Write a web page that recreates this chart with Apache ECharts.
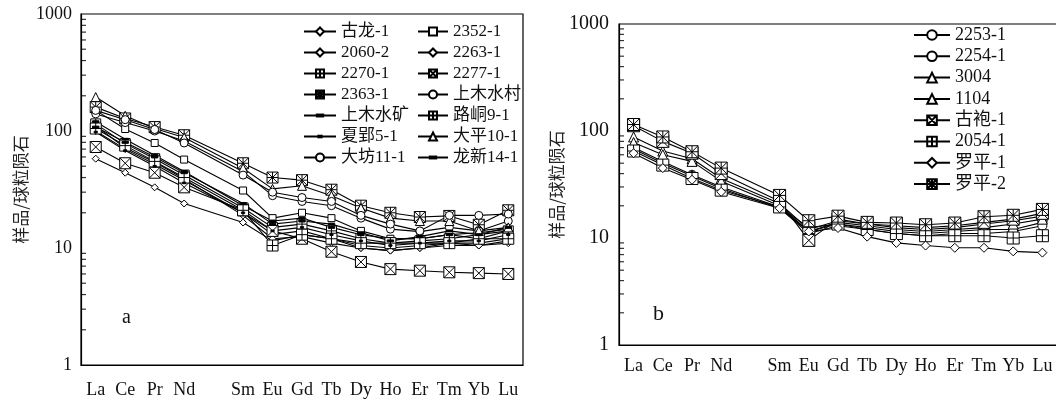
<!DOCTYPE html>
<html><head><meta charset="utf-8">
<script src="https://cdn.jsdelivr.net/npm/echarts/dist/echarts.min.js"></script>
<style>html,body{margin:0;padding:0;background:#fff}#c{width:1056px;height:401px}</style>
</head><body><div id="c"></div>
<script>
// ---------- data ----------
const categories = ['La','Ce','Pr','Nd','Pm','Sm','Eu','Gd','Tb','Dy','Ho','Er','Tm','Yb','Lu'];
const tickLabels = ['La','Ce','Pr','Nd','','Sm','Eu','Gd','Tb','Dy','Ho','Er','Tm','Yb','Lu'];
const minorTickValues = [2,3,4,5,6,7,8,9,20,30,40,50,60,70,80,90,200,300,400,500,600,700,800,900];
const yAxisTitle = '样品/球粒陨石';

// panel a
const guLong1   = [58,44,33,24,null,16.5,11.5,13,12,10,9.5,10,11,10.5,11.5];
const s2352_1   = [150,104,79,57,null,31,18,20,18,14,12,12,13,12,14];
const s2060_2   = [100,70,52,38,null,20,13,14,12,10.5,10,10.5,11,11,12];
const s2263_1   = [110,72,54,39,null,19,12,12.5,11,10,9.5,10,10.5,10.5,11];
const s2270_1   = [115,78,58,42,null,22,15,16,14,12,11,11.5,12,13,14];
const s2277_1   = [73,53,44,33,null,21,14,12,9.3,7.6,6.6,6.4,6.2,6.1,6.0];
const s2363_1   = [160,128,108,92,null,53,40,38,31.5,23,20,18.4,18.8,15.8,21];
const shangMuCun= [140,118,100,82,null,45,28,25,23,18,14.5,13.8,15,14,17];
const shangMuKuang=[120,85,62,45,null,23,17,18,15,13,12,12,13,13.5,14.5];
const luDong9_1 = [105,75,55,40,null,21,10.5,13,12,11,11,11,11,12,12];
const xiaYing5_1= [98,68,50,36,null,20,14,15,13,11.5,10.5,11,11.5,11.5,13];
const daPing10_1= [195,135,105,88,null,48,32,34,28,22,18,17,17,14,15];
const daFang11_1= [150,125,103,79,null,42,30,27,25,19,16,14,19,19,19.5];
const longXin14_1=[108,80,60,44,null,24,16,17,16,13.5,11.5,12.5,14,13,15];

// panel b
const s2253_1 = [70,52,39,30,null,19.5,11.5,13.5,12.5,11.5,11,11.5,12,12,14];
const s2254_1 = [68,50,38,29,null,19,11,13,12,11,10.5,11,11,11.5,13];
const s3004   = [88,65,55,36,null,21,12,14.5,13.5,12.5,12,12.5,13.5,14.5,16];
const s1104   = [78,60,52,34,null,20,11.5,14,13,12,11.5,12,12.5,13.5,15];
const guPao1  = [112,80,62,40,null,22,9.5,15,13.5,13,12.5,13,14,15,17];
const s2054_1 = [65,48,36,28,null,19.5,12.5,13.5,12,11,10.5,10.5,10.5,10,10.5];
const luoPing1= [62,45,35,27,null,19,11.5,12.4,10.3,9,8.5,8.1,8.1,7.5,7.3];
const luoPing2= [115,88,64,45,null,25,14.5,16,14,13.8,13.3,13.8,15.8,16.3,18.5];

// ---------- symbols ----------
const SYM = {
  circle: 'path://M5,0 A5,5 0 1,1 5,10 A5,5 0 1,1 5,0 Z',
  diamond: 'path://M5,0 L10,5 L5,10 L0,5 Z',
  triangle: 'path://M5,0 L10,10 L0,10 Z',
  square: 'path://M0,0 L10,0 L10,10 L0,10 Z',
  boxX: 'path://M0,0 L10,0 L10,10 L0,10 Z M0,0 L10,10 M10,0 L0,10',
  boxPlus: 'path://M0,0 L10,0 L10,10 L0,10 Z M5,0 L5,10 M0,5 L10,5',
  boxStar: 'path://M0,0 L10,0 L10,10 L0,10 Z M0,0 L10,10 M10,0 L0,10 M5,0 L5,10 M0,5 L10,5',
  dash: 'path://M0,0 M10,10 M1,3.8 L9,3.8 L9,6.2 L1,6.2 Z',
  dashS: 'path://M0,0 M10,10 M3,4 L7,4 L7,6 L3,6 Z'
};
const FONT = "'Liberation Serif','Noto Sans CJK SC',serif";

function line(name, data, sym, size, panel, filled) {
  return {
    type: 'line', name, data,
    xAxisIndex: panel, yAxisIndex: panel,
    connectNulls: true,
    symbol: SYM[sym], symbolSize: size,
    showAllSymbol: true,
    lineStyle: { color: '#000', width: 1.1 },
    itemStyle: { color: filled ? '#000' : '#fff', borderColor: '#000', borderWidth: 1 },
    emphasis: { disabled: true },
    animation: false, z: 3
  };
}
// minor log ticks drawn as tiny marks at the first category, shifted to the axis line
function minorTicks(panel, off) {
  return {
    type: 'scatter', xAxisIndex: panel, yAxisIndex: panel, silent: true, animation: false, z: 5,
    data: minorTickValues.map(v => [0, v]),
    symbol: 'path://M0,0 L10,0 L10,1 L0,1 Z', symbolSize: [5, 1.2], symbolOffset: [off, 0],
    itemStyle: { color: '#000', borderWidth: 0 },
    emphasis: { disabled: true }
  };
}
function xAxis(panel, margin) {
  return {
    type: 'category', gridIndex: panel, data: categories, boundaryGap: true,
    axisLine: { lineStyle: { color: '#000', width: 1.2 } },
    axisTick: { inside: true, length: 6, lineStyle: { color: '#000' }, interval: 0 },
    axisLabel: { interval: 0, margin, color: '#111', fontFamily: FONT, fontSize: 18,
                 formatter: (v, i) => tickLabels[i] },
    splitLine: { show: false }
  };
}
function yAxis(panel, fs, margin, nameGap) {
  return {
    type: 'log', gridIndex: panel, logBase: 10, min: 1, max: 1000, interval: 1,
    name: yAxisTitle, nameLocation: 'middle', nameRotate: 90, nameGap,
    nameTextStyle: { fontFamily: "'Noto Sans CJK SC',sans-serif", fontSize: 17, color: '#222' },
    axisLine: { show: true, lineStyle: { color: '#000', width: 1.2 } },
    axisTick: { inside: true, length: 7, lineStyle: { color: '#000' } },
    axisLabel: { margin, color: '#111', fontFamily: FONT, fontSize: fs,
                 formatter: v => String(Math.round(v)) },
    splitLine: { show: false }, minorTick: { show: false }
  };
}

const chart = echarts.init(document.getElementById('c'), null, { renderer: 'canvas' });
chart.setOption({
  backgroundColor: '#fff',
  animation: false,
  grid: [
    { left: 81, top: 14, width: 442, height: 351, show: true, borderColor: '#000', borderWidth: 1.2,
      backgroundColor: 'transparent', containLabel: false, outerBoundsMode: 'none' },
    { left: 619, top: 24, width: 438, height: 321, show: true, borderColor: '#000', borderWidth: 1.2,
      backgroundColor: 'transparent', containLabel: false, outerBoundsMode: 'none' }
  ],
  xAxis: [ xAxis(0, 16), xAxis(1, 12) ],
  yAxis: [ yAxis(0, 18, 9, 52), yAxis(1, 20, 10, 53) ],
  legend: [
    { orient: 'vertical', left: 303, top: 23, padding: 0, itemWidth: 32, itemHeight: 10, itemGap: 4, selectedMode: false,
      textStyle: { fontFamily: FONT, fontSize: 17, lineHeight: 17, color: '#111' },
      data: ['古龙-1','2060-2','2270-1','2363-1','上木水矿','夏郢5-1','大坊11-1'] },
    { orient: 'vertical', left: 417, top: 23, padding: 0, itemWidth: 30, itemHeight: 10, itemGap: 4, selectedMode: false,
      textStyle: { fontFamily: FONT, fontSize: 17, lineHeight: 17, color: '#111' },
      data: ['2352-1','2263-1','2277-1','上木水村','路峒9-1','大平10-1','龙新14-1'] },
    { orient: 'vertical', left: 913, top: 26, padding: 0, itemWidth: 36, itemHeight: 12, itemGap: 3.3, selectedMode: false,
      textStyle: { fontFamily: FONT, fontSize: 18, lineHeight: 18, color: '#111' },
      data: ['2253-1','2254-1','3004','1104','古袍-1','2054-1','罗平-1','罗平-2'] }
  ],
  graphic: [
    { type: 'text', left: 122, top: 308, style: { text: 'a', font: "20px 'Liberation Serif'", fill: '#111' } },
    { type: 'text', left: 653, top: 303, style: { text: 'b', font: "22px 'Liberation Serif'", fill: '#111' } }
  ],
  series: [
    line('古龙-1', guLong1, 'diamond', 7, 0),
    line('2352-1', s2352_1, 'square', 7, 0),
    line('2060-2', s2060_2, 'diamond', 7, 0),
    line('2263-1', s2263_1, 'diamond', 7, 0),
    line('2270-1', s2270_1, 'boxPlus', 10, 0),
    line('2277-1', s2277_1, 'boxX', 11, 0),
    line('2363-1', s2363_1, 'boxStar', 11, 0),
    line('上木水村', shangMuCun, 'circle', 8, 0),
    line('上木水矿', shangMuKuang, 'dash', 8, 0, true),
    line('路峒9-1', luDong9_1, 'boxPlus', 11, 0),
    line('夏郢5-1', xiaYing5_1, 'dashS', 8, 0, true),
    line('大平10-1', daPing10_1, 'triangle', 9, 0),
    line('大坊11-1', daFang11_1, 'circle', 8, 0),
    line('龙新14-1', longXin14_1, 'dash', 8, 0, true),
    minorTicks(0, -12.2),
    line('2253-1', s2253_1, 'circle', 9, 1),
    line('2254-1', s2254_1, 'circle', 9, 1),
    line('3004', s3004, 'triangle', 10, 1),
    line('1104', s1104, 'triangle', 10, 1),
    line('古袍-1', guPao1, 'boxX', 12, 1),
    line('2054-1', s2054_1, 'boxPlus', 12, 1),
    line('罗平-1', luoPing1, 'diamond', 9, 1),
    line('罗平-2', luoPing2, 'boxStar', 12, 1),
    minorTicks(1, -12.1)
  ]
});
</script>
</body></html>
